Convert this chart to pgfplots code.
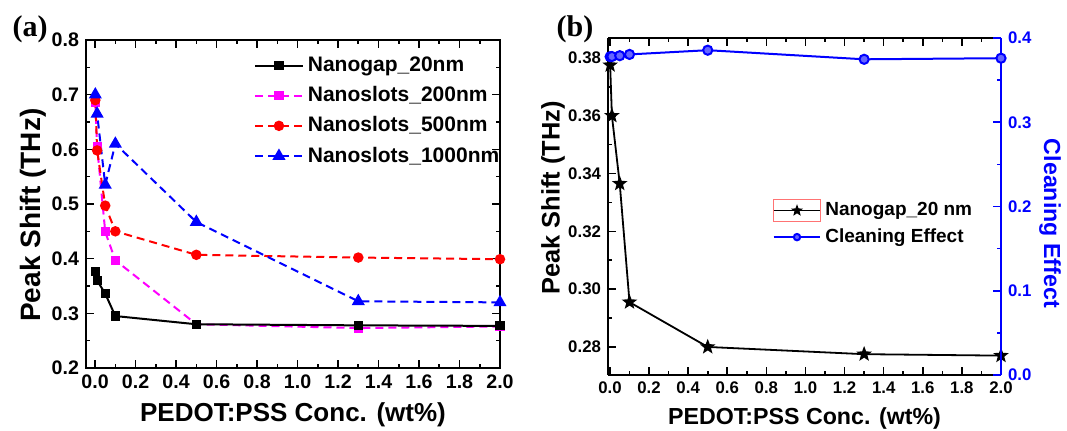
\documentclass[border=0pt]{standalone}
\usepackage{fontspec}
\setmainfont{Liberation Sans}
\newfontfamily\seriffont{Liberation Serif}
\usepackage{pgfplots}
\pgfplotsset{compat=1.18}
\usetikzlibrary{plotmarks}

% filled five-point star
\pgfdeclareplotmark{fivestar}{%
  \pgfpathmoveto{\pgfpointpolar{90}{\pgfplotmarksize}}%
  \pgfpathlineto{\pgfpointpolar{126}{0.42\pgfplotmarksize}}%
  \pgfpathlineto{\pgfpointpolar{162}{\pgfplotmarksize}}%
  \pgfpathlineto{\pgfpointpolar{198}{0.42\pgfplotmarksize}}%
  \pgfpathlineto{\pgfpointpolar{234}{\pgfplotmarksize}}%
  \pgfpathlineto{\pgfpointpolar{270}{0.42\pgfplotmarksize}}%
  \pgfpathlineto{\pgfpointpolar{306}{\pgfplotmarksize}}%
  \pgfpathlineto{\pgfpointpolar{342}{0.42\pgfplotmarksize}}%
  \pgfpathlineto{\pgfpointpolar{18}{\pgfplotmarksize}}%
  \pgfpathlineto{\pgfpointpolar{54}{0.42\pgfplotmarksize}}%
  \pgfpathclose
  \pgfusepathqfillstroke}

\definecolor{mag}{HTML}{FF00FF}
\definecolor{rd}{HTML}{FF0000}
\definecolor{bl}{HTML}{0000FF}

\pgfplotsset{
  common/.style={
    scale only axis,
    axis line style={line width=1pt},
    every tick/.style={line width=0.8pt, black},
    major tick length=4pt, minor tick length=2pt,
    tick align=inside,
    xmax=2.0, xtick={0,0.2,...,2.0}, minor x tick num=1,
    /pgf/number format/assume math mode=true,
    xticklabel style={/pgf/number format/.cd, fixed, fixed zerofill, precision=1},
    xlabel={PEDOT:PSS Conc. (wt\%)},
    dashline/.style={line width=1pt, dash pattern=on 4pt off 2.5pt},
  }
}

\pgfplotstableread{
x      gap    s200   s500   s1000
0.001  0.377  0.685  0.690  0.700
0.01   0.360  0.605  0.598  0.665
0.05   0.336  0.449  0.497  0.535
0.1    0.295  0.397  0.450  0.610
0.5    0.280  0.280  0.407  0.467
1.3    0.278  0.273  0.402  0.322
2.0    0.277  0.276  0.399  0.320
}\panela

\pgfplotstableread{
x      gap     clean
0.001  0.3775  0.3778
0.01   0.3600  0.3780
0.05   0.3365  0.3790
0.1    0.2955  0.3805
0.5    0.2800  0.3855
1.3    0.2775  0.3747
2.0    0.2770  0.3760
}\panelb

\begin{document}
\begin{tikzpicture}
\useasboundingbox (0,0) rectangle (533.5pt,215.5pt);

% ---------------- (a) ----------------
\begin{axis}[common,
  at={(43pt,31.5pt)}, anchor=south west,
  width=207pt, height=164pt,
  xmin=-0.045,
  ticklabel style={font=\bfseries\fontsize{9.8}{11}\selectfont},
  ymin=0.2, ymax=0.8, ytick={0.2,0.3,...,0.8}, minor y tick num=1,
  yticklabel style={/pgf/number format/.cd, fixed, fixed zerofill, precision=1},
  ylabel={Peak Shift (THz)},
  xlabel style={font=\bfseries\fontsize{13}{15}\selectfont,
    at={(axis description cs:0.5,-0.143)}, anchor=center},
  ylabel style={font=\bfseries\fontsize{14}{16}\selectfont,
    at={(axis description cs:-0.128,0.466)}, anchor=center},
  legend style={at={(axis description cs:0.405,0.962)}, anchor=north west,
    draw=none, fill=none, inner sep=0pt,
    font=\bfseries\fontsize{10.5}{12}\selectfont,
    row sep=2pt},
  legend cell align=left,
  legend image code/.code={\draw[mark repeat=2,mark phase=2]
    plot coordinates {(0cm,0cm) (0.42cm,0cm) (0.84cm,0cm)};},
]
\addlegendimage{black, line width=1pt, mark=square*, mark size=1.8pt, mark options={solid}}
\addlegendentry{Nanogap\_20nm}
\addplot[mag, dashline, mark=square*, mark size=1.8pt, mark options={solid}]
  table[x=x, y=s200] {\panela};
\addlegendentry{Nanoslots\_200nm}
\addplot[rd, dashline, mark=*, mark size=2.1pt, mark options={solid}]
  table[x=x, y=s500] {\panela};
\addlegendentry{Nanoslots\_500nm}
\addplot[bl, dashline, mark=triangle*, mark size=2.8pt, mark options={solid}]
  table[x=x, y=s1000] {\panela};
\addlegendentry{Nanoslots\_1000nm}
\addplot[black, line width=1pt, mark=square*, mark size=1.8pt, mark options={solid}, forget plot]
  table[x=x, y=gap] {\panela};
\end{axis}

% ---------------- (b) left axis ----------------
\begin{axis}[common,
  at={(304pt,28pt)}, anchor=south west,
  width=196.5pt, height=168.5pt,
  xmin=-0.01,
  ticklabel style={font=\bfseries\fontsize{8.4}{10}\selectfont},
  axis y line*=left,
  ymin=0.2703, ymax=0.3869, ytick={0.28,0.30,...,0.38}, minor y tick num=1,
  yticklabel style={/pgf/number format/.cd, fixed, fixed zerofill, precision=2},
  ylabel={Peak Shift (THz)},
  xlabel style={font=\bfseries\fontsize{11.6}{13}\selectfont,
    at={(axis description cs:0.5,-0.128)}, anchor=center},
  ylabel style={font=\bfseries\fontsize{12.7}{14}\selectfont,
    at={(axis description cs:-0.14,0.525)}, anchor=center},
]
\addplot[black, line width=0.9pt, mark=fivestar, mark size=2.8pt, mark options={solid, fill=black}]
  table[x=x, y=gap] {\panelb};
\end{axis}

% ---------------- (b) right axis ----------------
\begin{axis}[common,
  at={(304pt,28pt)}, anchor=south west,
  width=196.5pt, height=168.5pt,
  xmin=-0.01,
  ticklabel style={font=\bfseries\fontsize{8.4}{10}\selectfont},
  axis x line=none,
  axis y line*=right,
  y axis line style={bl, line width=1pt},
  ytick style={bl},
  ymin=0, ymax=0.4, ytick={0,0.1,...,0.4}, minor y tick num=1,
  yticklabel style={bl, /pgf/number format/.cd, fixed, fixed zerofill, precision=1},
  ylabel={Cleaning Effect},
  ylabel style={font=\bfseries\fontsize{11.6}{13}\selectfont, bl,
    at={(axis description cs:1.125,0.45)}, anchor=center, rotate=180},
  legend style={at={(axis description cs:0.418,0.525)}, anchor=north west,
    draw=none, fill=none, inner sep=0pt,
    font=\bfseries\fontsize{9.5}{11}\selectfont,
    row sep=1pt},
  legend cell align=left,
  legend image code/.code={\draw[mark repeat=2,mark phase=2, mark size=1.6pt]
    plot coordinates {(0cm,0cm) (0.41cm,0cm) (0.82cm,0cm)};},
]
\addlegendimage{black, line width=0.9pt, mark=fivestar, mark size=1.9pt, mark options={solid, fill=black},
  legend image code/.code={
    \draw[red!55, line width=0.5pt] (0cm,-0.2cm) rectangle (0.82cm,0.2cm);
    \draw[mark repeat=2,mark phase=2] plot coordinates {(0cm,0cm) (0.41cm,0cm) (0.82cm,0cm)};}}
\addlegendentry{Nanogap\_20 nm}
\addplot[bl, line width=1pt, mark=*, mark size=2.3pt, mark options={solid, fill=bl!60, draw=bl}]
  table[x=x, y=clean] {\panelb};
\addlegendentry{Cleaning Effect}
\end{axis}

\node[font=\seriffont\bfseries\fontsize{15}{16}\selectfont] at (15pt,201pt) {(a)};
\node[font=\seriffont\bfseries\fontsize{15}{16}\selectfont] at (287.5pt,201pt) {(b)};
\end{tikzpicture}
\end{document}
